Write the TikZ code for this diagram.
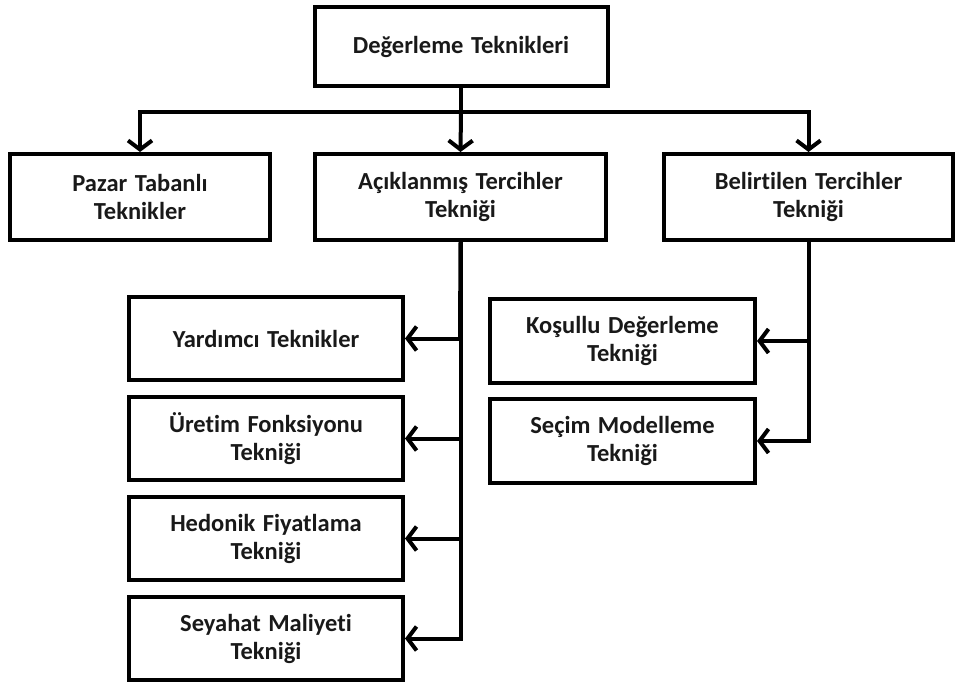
\documentclass[tikz,border=0pt]{standalone}
\usepackage{fontspec}
\setmainfont{Carlito}[Ligatures={NoCommon}, WordSpace={1.35}]
\usetikzlibrary{arrows.meta}
\tikzset{
  box/.style={draw=black, line width=4pt, fill=white, rectangle, inner sep=2pt, align=center,
    font=\fontsize{24.5}{28}\selectfont\bfseries, text=black!90},
  conn/.style={line width=4pt, draw=black},
  arr/.style={conn, -{Straight Barb[length=9pt,width=24pt]}},
}
\begin{document}
\begin{tikzpicture}[x=1pt,y=-1pt]
\useasboundingbox[fill=white] (0,0) rectangle (962,685);
\node[box, minimum width=293pt, minimum height=79pt] (top) at (461,46.5) {Değerleme Teknikleri};
\node[box, minimum width=260pt, minimum height=86pt] (pazar) at (140,197) {Pazar Tabanlı\\Teknikler};
\node[box, minimum width=291pt, minimum height=86pt] (acik) at (460.5,197) {Açıklanmış Tercihler\\Tekniği};
\node[box, minimum width=289pt, minimum height=86pt] (bel) at (808.5,197) {Belirtilen Tercihler\\Tekniği};
\node[box, minimum width=274pt, minimum height=83pt] (yard) at (266,338.5) {Yardımcı Teknikler};
\node[box, minimum width=274pt, minimum height=83pt] (uret) at (266,438.5) {Üretim Fonksiyonu\\Tekniği};
\node[box, minimum width=274pt, minimum height=83pt] (hed) at (266,538.5) {Hedonik Fiyatlama\\Tekniği};
\node[box, minimum width=274pt, minimum height=83pt] (sey) at (266,638.5) {Seyahat Maliyeti\\Tekniği};
\node[box, minimum width=265pt, minimum height=84pt] (kos) at (622.5,341) {Koşullu Değerleme\\Tekniği};
\node[box, minimum width=265pt, minimum height=84pt] (sec) at (622.5,441) {Seçim Modelleme\\Tekniği};
\coordinate (bus) at (0,112);
\coordinate (ltrunk) at (460,0);
\coordinate (rtrunk) at (810,0);
% top bus
\draw[conn] (top.south) -- (top.south |- bus);
\draw[arr] (top.south |- bus) -| (pazar.north);
\draw[arr] (top.south |- bus) -| (bel.north);
\draw[arr] (top.south |- bus) -- (acik.north);
% left trunk
\draw[conn] (acik.south) -- (ltrunk |- yard.east);
\draw[arr] (ltrunk |- yard.east) -- (yard.east);
\draw[arr] (ltrunk |- uret.east) -- (uret.east);
\draw[arr] (ltrunk |- hed.east) -- (hed.east);
\draw[arr] (acik.south) |- (sey.east);
% right trunk
\draw[arr] (rtrunk |- kos.east) -- (kos.east);
\draw[arr] (bel.south) |- (sec.east);
\end{tikzpicture}
\end{document}
